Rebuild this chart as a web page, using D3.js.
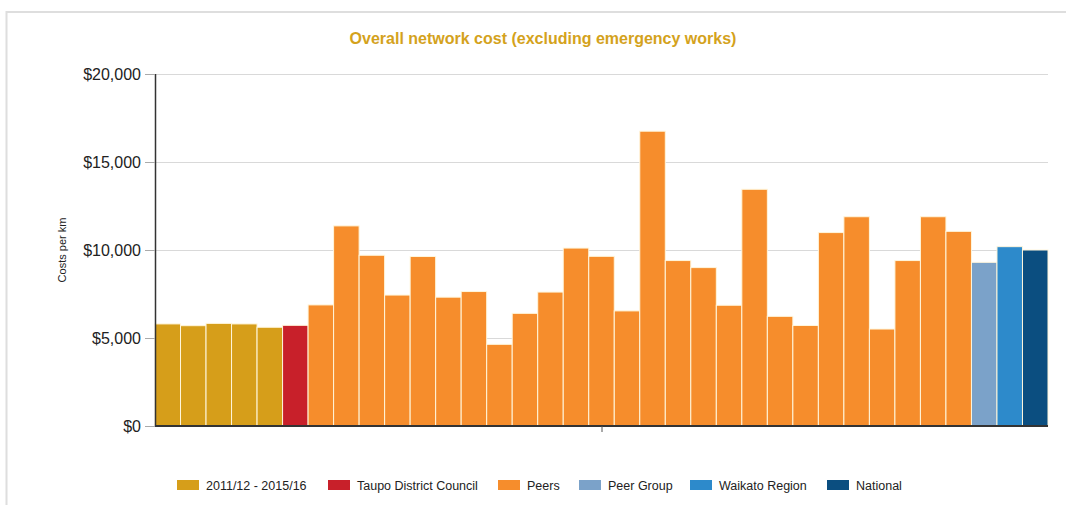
<!DOCTYPE html>
<html>
<head>
<meta charset="utf-8">
<script src="https://cdn.jsdelivr.net/npm/d3@7"></script>
<style>
  html, body { margin: 0; padding: 0; background: #fff; }
  svg { display: block; font-family: "Liberation Sans", Arial, sans-serif; }
</style>
</head>
<body>
<svg id="chart" width="1066" height="505"></svg>
<script>
// Cost per km by group
const seriesNames = ["2011/12 - 2015/16", "Taupo District Council", "Peers", "Peer Group", "Waikato Region", "National"];
const seriesColors = ["#D69E1A", "#C8202A", "#F68D2C", "#7BA2C9", "#2D8ACB", "#0B4E80"];

const trendValues = [5800, 5700, 5830, 5800, 5610];
const councilValues = [5720];
const peerValues = [6880, 11370, 9700, 7440, 9630, 7320, 7640, 4640, 6400, 7610, 10110, 9640, 6540,
                    16750, 9400, 9000, 6860, 13450, 6230, 5710, 10990, 11890, 5510, 9400, 11890, 11060];
const peerGroupValues = [9300];
const regionValues = [10190];
const nationalValues = [10000];

const yTicks = [0, 5000, 10000, 15000, 20000];
const titleText = "Overall network cost (excluding emergency works)";
const yAxisTitle = "Costs per km";

// flatten into one row of bars, each tagged with its series
const groups = [trendValues, councilValues, peerValues, peerGroupValues, regionValues, nationalValues];
const bars = [];
groups.forEach((vals, s) => vals.forEach(v => bars.push({ s, v, i: bars.length })));

const svg = d3.select("#chart");
const margin = { left: 155, right: 1048, top: 74, bottom: 426 };

// outer frame
svg.append("rect")
  .attr("x", 6.5).attr("y", 12).attr("width", 1080).attr("height", 510)
  .attr("fill", "none").attr("stroke", "#dedede").attr("stroke-width", 2);

const x = d3.scaleBand().domain(bars.map(d => d.i)).range([margin.left, margin.right]).padding(0);
const y = d3.scaleLinear().domain([0, 20000]).range([margin.bottom, margin.top]);

// gridlines
svg.append("g").selectAll("line").data(yTicks.filter(t => t > 0)).join("line")
  .attr("x1", margin.left).attr("x2", margin.right)
  .attr("y1", d => y(d) + 0.5).attr("y2", d => y(d) + 0.5)
  .attr("stroke", "#d9d9d9").attr("stroke-width", 1);

// bars
svg.append("g").selectAll("rect").data(bars).join("rect")
  .attr("x", d => x(d.i))
  .attr("y", d => y(d.v))
  .attr("width", x.bandwidth())
  .attr("height", d => y(0) - y(d.v))
  .attr("fill", d => seriesColors[d.s])
  .attr("stroke", "#fff6dc")
  .attr("stroke-width", 1);

// y axis
const yAxis = d3.axisLeft(y).tickValues(yTicks).tickSize(10).tickPadding(4)
  .tickFormat(d => "$" + d3.format(",")(d));
const gy = svg.append("g").attr("transform", `translate(${margin.left},0)`).call(yAxis);
gy.select(".domain").attr("stroke", "#333").attr("stroke-width", 1.5).attr("d", `M0.5,${margin.top}V${margin.bottom}`);
gy.selectAll(".tick line").attr("stroke", "#aaa");
gy.selectAll(".tick text").attr("font-size", 16).attr("fill", "#222")
  .attr("font-family", "'Liberation Sans', Arial, sans-serif");

// x axis baseline with a single centred tick
const xCenter = d3.scaleLinear().domain([0, 1]).range([margin.left, margin.right]);
const xAxis = d3.axisBottom(xCenter).tickValues([0.5]).tickSize(6).tickFormat("");
const gx = svg.append("g").attr("transform", `translate(0,${margin.bottom})`).call(xAxis);
gx.select(".domain").attr("stroke", "#333").attr("stroke-width", 2).attr("d", `M${margin.left},0H${margin.right}`);
gx.selectAll(".tick line").attr("stroke", "#555");

// title
svg.append("text")
  .attr("x", 543).attr("y", 44)
  .attr("text-anchor", "middle")
  .attr("font-size", 16).attr("font-weight", "bold")
  .attr("fill", "#D4A21C")
  .text(titleText);

// y axis title
svg.append("text")
  .attr("transform", "translate(66,250) rotate(-90)")
  .attr("text-anchor", "middle")
  .attr("font-size", 11).attr("fill", "#222")
  .text(yAxisTitle);

// legend
const legendX = [177, 328, 498, 579, 690, 827];
const legend = svg.append("g").selectAll("g").data(seriesNames).join("g")
  .attr("transform", (d, i) => `translate(${legendX[i]},485)`);
legend.append("rect")
  .attr("x", 0).attr("y", -5).attr("width", 22).attr("height", 10)
  .attr("fill", (d, i) => seriesColors[i]);
legend.append("text")
  .attr("x", 29).attr("y", 4.5)
  .attr("font-size", 12.5).attr("fill", "#222")
  .text(d => d);
</script>
</body>
</html>
